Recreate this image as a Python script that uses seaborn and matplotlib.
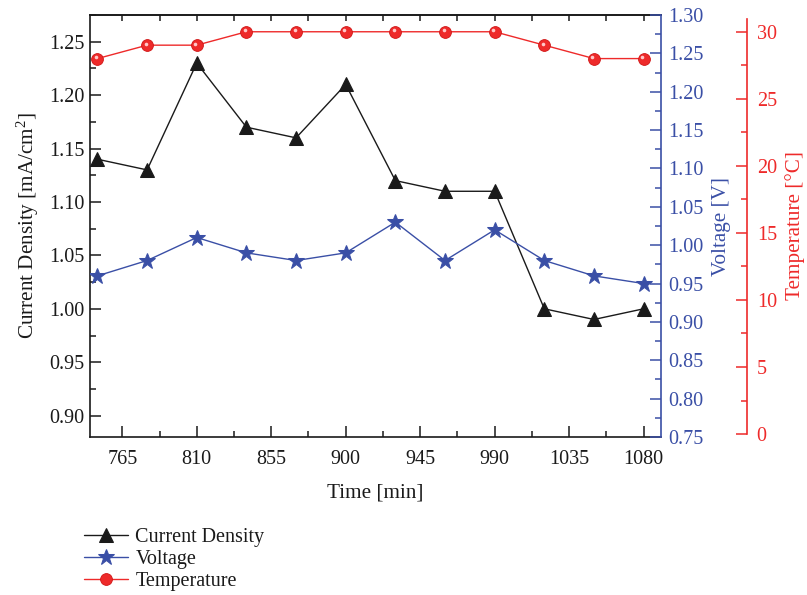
import numpy as np
import pandas as pd
import matplotlib
matplotlib.use("Agg")
import matplotlib.pyplot as plt
from matplotlib.ticker import MultipleLocator, FixedLocator, FormatStrFormatter
from matplotlib.transforms import offset_copy
import seaborn as sns

time_min = [750, 780, 810, 840, 870, 900, 930, 960, 990, 1020, 1050, 1080]
current_density = [1.14, 1.13, 1.23, 1.17, 1.16, 1.21, 1.12, 1.11, 1.11, 1.00, 0.99, 1.00]
voltage = [0.96, 0.98, 1.01, 0.99, 0.98, 0.99, 1.03, 0.98, 1.02, 0.98, 0.96, 0.95]
temperature = [28, 29, 29, 30, 30, 30, 30, 30, 30, 29, 28, 28]
x_ticks = [765, 810, 855, 900, 945, 990, 1035, 1080]
temp_ticks = [0, 5, 10, 15, 20, 25, 30]

sns.set_theme(style="ticks")
plt.rcParams['font.family'] = ['Liberation Serif', 'DejaVu Serif']
plt.rcParams['mathtext.fontset'] = 'custom'
plt.rcParams['mathtext.rm'] = 'Liberation Serif'
plt.rcParams['mathtext.it'] = 'Liberation Serif:italic'

BLACK = '#1a1a1a'
BLUE = '#3a4fa6'
RED = '#ee2a2a'
FS = 14.5
LFS = 15.2

df = pd.DataFrame({'Time': time_min, 'CD': current_density, 'V': voltage, 'T': temperature})

W, H = 807, 595
fig = plt.figure(figsize=(W / 100, H / 100), dpi=100)
L, R, T, B = 90, 661, 15, 437
ax = fig.add_axes([L / W, 1 - B / H, (R - L) / W, (B - T) / H])
ax2 = ax.twinx()
ax3 = ax.twinx()

sns.lineplot(data=df, x='Time', y='CD', ax=ax, color=BLACK, marker='^', markersize=10,
             markeredgecolor=BLACK, linewidth=1.0, label='Current Density')
sns.lineplot(data=df, x='Time', y='V', ax=ax2, color=BLUE, marker='*', markersize=12,
             markeredgecolor=BLUE, linewidth=1.0, label='Voltage')
sns.lineplot(data=df, x='Time', y='T', ax=ax3, color=RED, marker='o', markersize=8.5,
             markeredgecolor='#d01515', markeredgewidth=0.6, linewidth=1.0, label='Temperature')
# small specular highlight on the spheres
sns.lineplot(data=df, x='Time', y='T', ax=ax3, color='#ffc8c8', marker='o', markersize=2.6,
             markeredgewidth=0, linestyle='', legend=False,
             transform=offset_copy(ax3.transData, fig=fig, x=-1.5, y=1.5, units='dots'))

handles, labels = [], []
for a in (ax, ax2, ax3):
    h, l = a.get_legend_handles_labels()
    handles += h
    labels += l
    if a.get_legend() is not None:
        a.get_legend().remove()

# x axis
ax.set_xlim(745.5, 1090.5)
ax.set_xticks(x_ticks)
ax.xaxis.set_minor_locator(MultipleLocator(22.5))
ax.set_xlabel('Time [min]', fontsize=LFS, color=BLACK, labelpad=11)
ax.tick_params(axis='x', which='both', direction='in', top=False, colors=BLACK,
               labelsize=FS, width=1.1, pad=9)
ax.tick_params(axis='x', which='major', length=8)
ax.tick_params(axis='x', which='minor', length=4)
sec = ax.secondary_xaxis('top')
sec.set_xticks(x_ticks)
sec.xaxis.set_minor_locator(MultipleLocator(22.5))
sec.tick_params(axis='x', which='both', direction='in', length=4, width=1.1,
                labeltop=False, colors=BLACK)
sec.spines['top'].set_color(BLACK)
sec.spines['top'].set_linewidth(1.2)

# left y axis
ax.set_ylim(0.88, 1.275)
ax.yaxis.set_major_locator(MultipleLocator(0.05))
ax.yaxis.set_minor_locator(MultipleLocator(0.025))
ax.yaxis.set_major_formatter(FormatStrFormatter('%.2f'))
ax.set_ylabel('Current Density [mA/cm$^{2}$]', fontsize=LFS, color=BLACK, labelpad=6)
ax.tick_params(axis='y', which='both', direction='in', colors=BLACK, labelsize=FS, width=1.1, pad=4)
ax.tick_params(axis='y', which='major', length=8)
ax.tick_params(axis='y', which='minor', length=4)
for s in ('left', 'bottom', 'top'):
    ax.spines[s].set_color(BLACK)
    ax.spines[s].set_linewidth(1.2)
ax.spines['right'].set_visible(False)

# voltage axis
ax2.set_ylim(0.75, 1.30)
ax2.yaxis.set_major_locator(MultipleLocator(0.05))
ax2.yaxis.set_minor_locator(MultipleLocator(0.025))
ax2.yaxis.set_major_formatter(FormatStrFormatter('%.2f'))
ax2.set_ylabel('Voltage [V]', fontsize=LFS, color=BLUE, labelpad=6)
ax2.tick_params(axis='y', which='both', direction='in', colors=BLUE, labelsize=FS, width=1.1, pad=5)
ax2.tick_params(axis='y', which='major', length=8)
ax2.tick_params(axis='y', which='minor', length=4)
for s in ('left', 'top', 'bottom'):
    ax2.spines[s].set_visible(False)
ax2.spines['right'].set_color(BLUE)
ax2.spines['right'].set_linewidth(1.2)

# temperature axis
px_per_deg = (440 - 32) / 30.0
t_lo = -(440 - B) / px_per_deg
t_hi = 30 + (32 - T) / px_per_deg
ax3.set_ylim(t_lo, t_hi)
ax3.spines['right'].set_position(('axes', (747 - L) / (R - L)))
ax3.spines['right'].set_bounds(0, 30 + (32 - 19) / px_per_deg)
ax3.spines['right'].set_color(RED)
ax3.spines['right'].set_linewidth(1.2)
for s in ('left', 'top', 'bottom'):
    ax3.spines[s].set_visible(False)
ax3.set_ylabel('Temperature [°C]', fontsize=LFS, color=RED, labelpad=6)
ax3.tick_params(axis='y', which='both', direction='in', colors=RED, labelsize=FS, width=1.1, pad=7)
ax3.tick_params(axis='y', which='major', length=8)
ax3.tick_params(axis='y', which='minor', length=4)
ax3.set_yticks(temp_ticks)
ax3.yaxis.set_minor_locator(FixedLocator([2.5, 7.5, 12.5, 17.5, 22.5, 27.5]))

leg = fig.legend(handles, labels, loc='upper left', bbox_to_anchor=(84 / W, 1 - 528 / H),
                 frameon=False, fontsize=FS, handlelength=2.2, handletextpad=0.35,
                 labelspacing=0.15, borderaxespad=0, borderpad=0)
for t in leg.get_texts():
    t.set_color(BLACK)

fig.savefig('out.png', dpi=100)
